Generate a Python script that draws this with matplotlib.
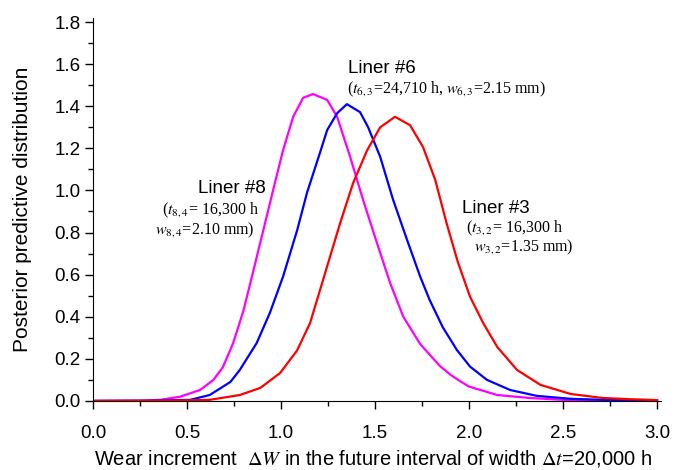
import matplotlib
matplotlib.use("Agg")
import matplotlib.pyplot as plt
from matplotlib.ticker import MultipleLocator

# Liner #8 (magenta)
x8 = [0.0, 0.25, 0.356, 0.463, 0.569, 0.64, 0.69, 0.745, 0.80, 0.85, 0.905, 0.957, 1.01, 1.064,
      1.117, 1.17, 1.245, 1.298, 1.367, 1.436, 1.51, 1.58, 1.65, 1.74, 1.79, 1.846, 1.9, 1.95,
      2.0, 2.15, 2.32, 2.5, 2.75, 3.0]
y8 = [0.0, 0.001, 0.005, 0.02, 0.052, 0.10, 0.16, 0.275, 0.43, 0.61, 0.81, 1.0, 1.19, 1.35,
      1.44, 1.458, 1.43, 1.35, 1.16, 0.955, 0.75, 0.56, 0.40, 0.27, 0.22, 0.165, 0.125, 0.095,
      0.068, 0.028, 0.014, 0.005, 0.002, 0.001]

# Liner #6 (blue)
x6 = [0.0, 0.3, 0.516, 0.62, 0.73, 0.78, 0.87, 0.94, 1.01, 1.085, 1.138, 1.207, 1.245, 1.298,
      1.35, 1.42, 1.463, 1.527, 1.596, 1.67, 1.74, 1.79, 1.86, 1.935, 2.005, 2.095, 2.218,
      2.36, 2.54, 2.75, 3.0]
y6 = [0.0, 0.001, 0.005, 0.028, 0.09, 0.147, 0.275, 0.418, 0.59, 0.81, 0.99, 1.18, 1.287, 1.367,
      1.41, 1.372, 1.30, 1.16, 0.955, 0.765, 0.59, 0.48, 0.35, 0.242, 0.163, 0.10, 0.052,
      0.024, 0.01, 0.004, 0.001]

# Liner #3 (red)
x3 = [0.0, 0.4, 0.62, 0.78, 0.89, 0.995, 1.085, 1.154, 1.207, 1.245, 1.314, 1.383, 1.457,
      1.527, 1.606, 1.686, 1.755, 1.82, 1.88, 1.94, 2.005, 2.075, 2.15, 2.255, 2.38, 2.54,
      2.71, 2.86, 3.0]
y3 = [0.0, 0.001, 0.005, 0.028, 0.062, 0.133, 0.24, 0.37, 0.527, 0.64, 0.845, 1.035, 1.19,
      1.30, 1.35, 1.31, 1.206, 1.05, 0.845, 0.66, 0.495, 0.37, 0.256, 0.147, 0.076, 0.033,
      0.014, 0.008, 0.004]

plt.rcParams["font.family"] = "Liberation Sans"
plt.rcParams["mathtext.fontset"] = "stix"

fig = plt.figure(figsize=(6.75, 4.7), dpi=100)
ax = fig.add_axes([0.138, 0.147, 0.841, 0.815])

ax.plot(x8, y8, color="#ff00ff", linewidth=1.6)
ax.plot(x6, y6, color="#0000ff", linewidth=1.6)
ax.plot(x3, y3, color="#ff0000", linewidth=1.6)

ax.set_xlim(0, 3.02)
ax.set_ylim(0, 1.82)
ax.xaxis.set_major_locator(MultipleLocator(0.5))
ax.xaxis.set_minor_locator(MultipleLocator(0.25))
ax.yaxis.set_major_locator(MultipleLocator(0.2))
ax.yaxis.set_minor_locator(MultipleLocator(0.1))
ax.xaxis.set_major_formatter(plt.FormatStrFormatter("%.1f"))
ax.yaxis.set_major_formatter(plt.FormatStrFormatter("%.1f"))
ax.tick_params(which="major", direction="out", length=6, width=1, labelsize=13.5, pad=3)
ax.tick_params(which="minor", direction="out", length=3.5, width=1)
ax.tick_params(axis="x", pad=11)
ax.spines["top"].set_visible(False)
ax.spines["right"].set_visible(False)

ax.set_ylabel("Posterior predictive distribution", fontsize=15)
ax.set_xlabel(r"Wear increment  $\Delta W$ in the future interval of width $\Delta t$=20,000 h",
              fontsize=14.5)
ax.yaxis.set_label_coords(-0.107, 0.5)
ax.xaxis.set_label_coords(0.493, -0.122)

serif = "Liberation Serif"
ax.text(1.356, 1.581, "Liner #6", fontsize=13.5, va="center")
ax.text(1.351, 1.481, r"($t_{6,3}$=24,710 h, $w_{6,3}$=2.15 mm)", fontsize=11.5,
        family=serif, va="center")

ax.text(0.559, 1.011, "Liner #8", fontsize=13.5, va="center")
ax.text(0.367, 0.907, r"($t_{8,4}$= 16,300 h", fontsize=11.5, family=serif, va="center")
ax.text(0.330, 0.812, r"$w_{8,4}$=2.10 mm)", fontsize=11.5, family=serif, va="center")

ax.text(1.963, 0.916, "Liner #3", fontsize=13.5, va="center")
ax.text(1.984, 0.821, r"($t_{3,2}$= 16,300 h", fontsize=11.5, family=serif, va="center")
ax.text(2.027, 0.731, r"$w_{3,2}$=1.35 mm)", fontsize=11.5, family=serif, va="center")

fig.savefig("out.png", dpi=100)
